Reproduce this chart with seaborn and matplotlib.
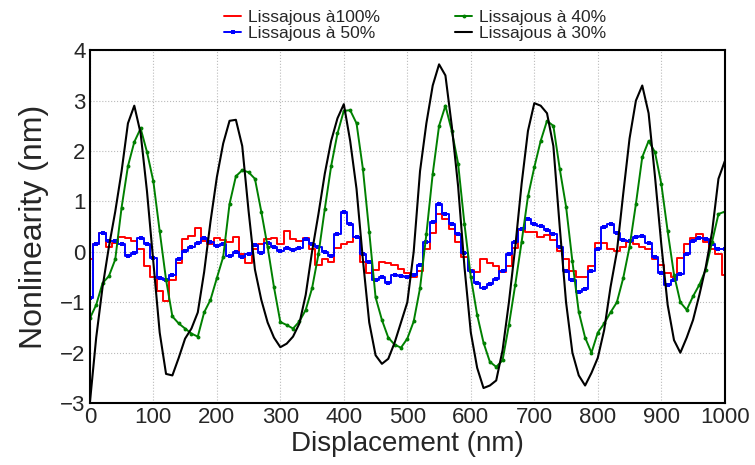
import matplotlib
matplotlib.use("Agg")
import matplotlib.pyplot as plt
import seaborn as sns
import numpy as np
import pandas as pd

# Displacement grid (nm), readings every 10 nm
displacement = list(range(0, 1001, 10))

# Lissajous at 100 % (red)
liss_100 = [
    -0.15, 0.15, 0.38, 0.10, 0.18, 0.30, 0.28, 0.22, 0.05, -0.28,
    -0.50, -0.78, -0.97, -0.55, -0.22, 0.25, 0.32, 0.48, 0.22, 0.15,
    0.28, 0.24, 0.20, 0.30, -0.05, -0.22, 0.05, 0.16, 0.25, 0.27,
    0.15, 0.42, 0.26, 0.22, 0.27, 0.05, -0.25, -0.15, -0.20, 0.08,
    0.16, 0.20, 0.30, -0.20, -0.42, -0.35, -0.20, -0.22, -0.26, -0.33,
    -0.42, -0.50, -0.38, 0.05, 0.38, 0.75, 0.66, 0.45, 0.20, -0.10,
    -0.35, -0.40, -0.15, -0.22, -0.28, -0.40, -0.28, 0.08, 0.43, 0.40,
    0.40, 0.30, 0.33, 0.24, 0.02, -0.15, -0.38, -0.50, -0.50, -0.28,
    0.18, 0.17, 0.05, 0.01, 0.10, 0.20, 0.15, 0.10, 0.05, -0.15,
    -0.25, -0.42, -0.50, -0.12, 0.15, 0.27, 0.35, 0.20, 0.05, -0.05,
    -0.45,
]

# Lissajous at 50 % (blue)
liss_50 = [
    -0.92, 0.15, 0.38, 0.22, 0.22, 0.15, -0.08, -0.02, 0.28, 0.15,
    -0.12, -0.52, -0.55, -0.45, -0.15, 0.01, 0.10, 0.18, 0.27, 0.20,
    0.12, 0.16, -0.08, 0.00, -0.10, -0.05, 0.14, -0.02, 0.18, 0.10,
    0.02, 0.07, 0.04, 0.08, 0.26, 0.16, 0.10, 0.00, -0.08, 0.35,
    0.80, 0.55, 0.30, -0.05, -0.20, -0.56, -0.50, -0.62, -0.45, -0.48,
    -0.50, -0.45, -0.25, 0.20, 0.60, 0.95, 0.75, 0.55, 0.35, -0.02,
    -0.38, -0.62, -0.72, -0.63, -0.53, -0.37, -0.05, 0.20, 0.45, 0.65,
    0.55, 0.52, 0.43, 0.36, 0.10, -0.38, -0.55, -0.79, -0.74, -0.38,
    0.05, 0.50, 0.55, 0.38, 0.24, 0.21, 0.30, 0.32, 0.18, -0.10,
    -0.42, -0.65, -0.55, -0.43, -0.05, 0.22, 0.28, 0.25, 0.15, 0.05,
    0.05,
]

# Lissajous at 40 % (green)
liss_40 = [
    -1.32, -1.05, -0.62, -0.48, -0.15, 0.88, 1.70, 2.18, 2.45, 1.98,
    1.40, 0.41, -0.55, -1.28, -1.42, -1.52, -1.62, -1.68, -1.20, -0.95,
    -0.52, -0.10, 0.95, 1.50, 1.62, 1.58, 1.45, 0.80, 0.10, -0.70,
    -1.39, -1.45, -1.52, -1.38, -1.15, -0.72, -0.05, 0.85, 1.70, 2.35,
    2.80, 2.81, 2.55, 1.65, 0.40, -0.90, -1.35, -1.70, -1.84, -1.90,
    -1.72, -1.38, -0.72, 0.35, 1.55, 2.50, 2.90, 2.40, 1.75, 0.55,
    -0.50, -1.25, -1.80, -2.18, -2.28, -2.15, -1.45, -0.65, 0.20, 1.10,
    1.68, 2.20, 2.60, 2.50, 1.65, 0.90, -0.19, -1.19, -1.70, -2.00,
    -1.60, -1.42, -1.20, -1.00, -0.52, 0.10, 0.95, 1.88, 2.20, 1.98,
    1.35, 0.41, -0.45, -1.00, -1.15, -0.88, -0.65, -0.35, 0.20, 0.75,
    0.80,
]

# Lissajous at 30 % (black)
liss_30 = [
    -3.00, -1.70, -0.70, 0.10, 0.80, 1.60, 2.55, 2.90, 2.35, 1.20,
    -0.20, -1.60, -2.42, -2.45, -2.10, -1.72, -1.52, -1.20, -0.40, 0.60,
    1.48, 2.15, 2.60, 2.62, 2.10, 0.81, -0.35, -0.95, -1.40, -1.70,
    -1.89, -1.82, -1.68, -1.42, -0.85, 0.01, 0.75, 1.55, 2.20, 2.65,
    2.93, 2.20, 1.25, -0.15, -1.40, -2.05, -2.22, -2.12, -1.80, -1.40,
    -1.00, 0.00, 1.60, 2.55, 3.30, 3.72, 3.50, 2.50, 1.30, -0.30,
    -1.60, -2.30, -2.70, -2.65, -2.55, -1.95, -1.00, 0.10, 1.35, 2.40,
    2.95, 2.90, 2.75, 2.10, 0.50, -1.00, -2.00, -2.45, -2.65, -2.40,
    -2.10, -1.55, -0.70, 0.00, 1.15, 2.25, 3.00, 3.30, 2.75, 1.50,
    0.15, -1.05, -1.75, -2.00, -1.70, -1.35, -0.85, -0.30, 0.40, 1.45,
    1.80,
]

labels = ["Lissajous à100%", "Lissajous à 50%", "Lissajous à 40%", "Lissajous à 30%"]
colors = ["#ff0000", "#0000ff", "#008000", "#000000"]

x_ticks = list(range(0, 1001, 100))
y_ticks = list(range(-3, 5))

sns.set_style("white")
plt.rcParams["font.family"] = ["Liberation Sans", "DejaVu Sans"]

fig = plt.figure(figsize=(7.55, 4.65), dpi=100)
ax = fig.add_axes([0.119, 0.133, 0.841, 0.759])

df = pd.DataFrame({
    "x": displacement,
    "r": liss_100,
    "b": liss_50,
    "g": liss_40,
    "k": liss_30,
})

sns.lineplot(data=df, x="x", y="r", ax=ax, color=colors[0], lw=1.4,
             drawstyle="steps-mid", label=labels[0])
sns.lineplot(data=df, x="x", y="b", ax=ax, color=colors[1], lw=1.4,
             drawstyle="steps-mid", marker="s", markersize=2.5,
             markeredgewidth=0, label=labels[1])
sns.lineplot(data=df, x="x", y="g", ax=ax, color=colors[2], lw=1.4,
             marker="o", markersize=2.8, markeredgewidth=0, label=labels[2])
sns.lineplot(data=df, x="x", y="k", ax=ax, color=colors[3], lw=1.5,
             label=labels[3])

ax.set_xlim(0, 1000)
ax.set_ylim(-3, 4)
ax.set_xticks(x_ticks)
ax.set_yticks(y_ticks)
ax.tick_params(axis="both", labelsize=16, direction="in", length=4,
               color="#888888", pad=3)
ax.grid(True, color="#bbbbbb", linestyle=":", linewidth=0.8)
for s in ax.spines.values():
    s.set_color("black")
    s.set_linewidth(1.5)

ax.set_xlabel("Displacement (nm)", fontsize=20, labelpad=2)
ax.set_ylabel("Nonlinearity (nm)", fontsize=23, labelpad=8)

ax.legend(loc="center", bbox_to_anchor=(0.55, 0.946),
          bbox_transform=fig.transFigure, ncol=2, frameon=False,
          fontsize=12.5, handlelength=1.0, handletextpad=0.4,
          columnspacing=4.3, labelspacing=0.05, borderpad=0)

fig.savefig("out.png", dpi=100)
